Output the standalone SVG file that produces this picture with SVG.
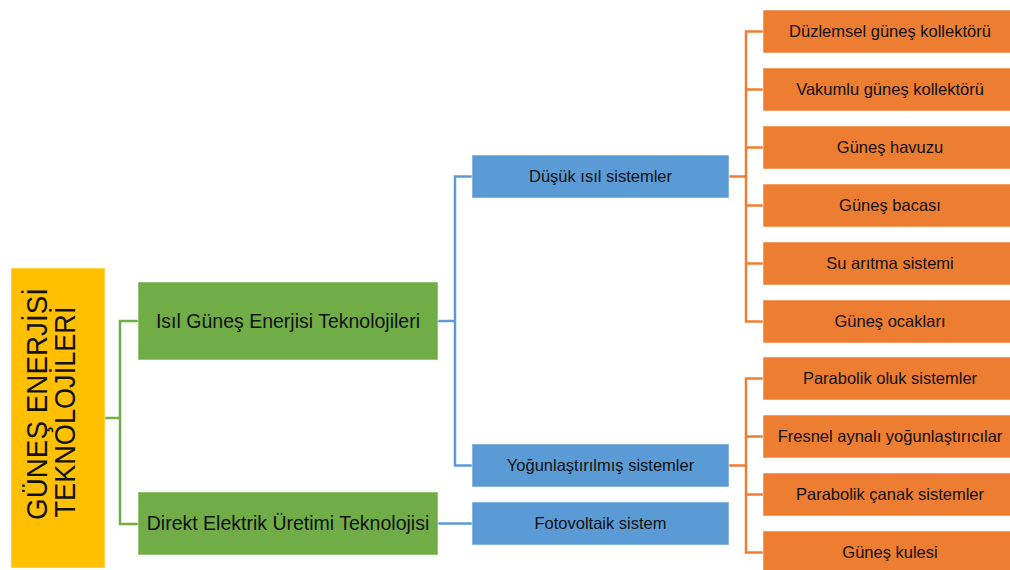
<svg xmlns="http://www.w3.org/2000/svg" width="1010" height="570" viewBox="0 0 1010 570">
<style>
.box{stroke:#ffffff;stroke-opacity:0.5;stroke-width:1}
.y{fill:#FFC000}.g{fill:#70AD47}.b{fill:#5B9BD5}.o{fill:#ED7D31}
.t{font-family:"Liberation Sans",Arial,sans-serif;fill:#111;text-anchor:middle}
.s{font-size:16.5px}.m{font-size:19.5px}.l{font-size:30px}
.cg{stroke:#70AD47}.cb{stroke:#5B9BD5}.co{stroke:#ED7D31}
#connectors path{fill:none;stroke-width:2.5}
</style>
<rect width="1010" height="570" fill="#ffffff"/>
<g id="connectors">
<path class="cg" d="M105,418 H120 M138,321 H120 V524 H138"/>
<path class="cb" d="M438,321 H455 M472,176.5 H455 V465.5 H472 M438,523.5 H472"/>
<path class="co" d="M729,176.5 H746 M763,31.5 H746 V321.5 H763 M746,89.5 H763 M746,147.5 H763 M746,205.5 H763 M746,263.5 H763"/>
<path class="co" d="M729,465.5 H746 M763,378.5 H746 V552.5 H763 M746,436.5 H763 M746,494.5 H763"/>
</g>
<g id="root">
<rect class="box y" x="11" y="268" width="94" height="300"/>
<text class="t l" transform="translate(47,404) rotate(-90)" textLength="232" lengthAdjust="spacingAndGlyphs">GÜNEŞ ENERJİSİ</text>
<text class="t l" transform="translate(75,412) rotate(-90)" textLength="211" lengthAdjust="spacingAndGlyphs">TEKNOLOJİLERİ</text>
</g>
<g id="isil">
<rect class="box g" x="138" y="282" width="300" height="78"/>
<text class="t m" x="288" y="328">Isıl Güneş Enerjisi Teknolojileri</text>
</g>
<g id="direkt">
<rect class="box g" x="138" y="492" width="300" height="63"/>
<text class="t m" x="288" y="530">Direkt Elektrik Üretimi Teknolojisi</text>
</g>
<g id="dusuk">
<rect class="box b" x="472" y="155" width="257" height="43"/>
<text class="t s" x="600.5" y="182.3">Düşük ısıl sistemler</text>
</g>
<g id="yogun">
<rect class="box b" x="472" y="444" width="257" height="43"/>
<text class="t s" x="600.5" y="471.3">Yoğunlaştırılmış sistemler</text>
</g>
<g id="foto">
<rect class="box b" x="472" y="502" width="257" height="43"/>
<text class="t s" x="600.5" y="529.3">Fotovoltaik sistem</text>
</g>
<g id="o1"><rect class="box o" x="763" y="10" width="255" height="43"/><text class="t s" x="890" y="37.3">Düzlemsel güneş kollektörü</text></g>
<g id="o2"><rect class="box o" x="763" y="68" width="255" height="43"/><text class="t s" x="890" y="95.3">Vakumlu güneş kollektörü</text></g>
<g id="o3"><rect class="box o" x="763" y="126" width="255" height="43"/><text class="t s" x="890" y="153.3">Güneş havuzu</text></g>
<g id="o4"><rect class="box o" x="763" y="184" width="255" height="43"/><text class="t s" x="890" y="211.3">Güneş bacası</text></g>
<g id="o5"><rect class="box o" x="763" y="242" width="255" height="43"/><text class="t s" x="890" y="269.3">Su arıtma sistemi</text></g>
<g id="o6"><rect class="box o" x="763" y="300" width="255" height="43"/><text class="t s" x="890" y="327.3">Güneş ocakları</text></g>
<g id="o7"><rect class="box o" x="763" y="357" width="255" height="43"/><text class="t s" x="890" y="384.3">Parabolik oluk sistemler</text></g>
<g id="o8"><rect class="box o" x="763" y="415" width="255" height="43"/><text class="t s" x="890" y="442.3">Fresnel aynalı yoğunlaştırıcılar</text></g>
<g id="o9"><rect class="box o" x="763" y="473" width="255" height="43"/><text class="t s" x="890" y="500.3">Parabolik çanak sistemler</text></g>
<g id="o10"><rect class="box o" x="763" y="531" width="255" height="43"/><text class="t s" x="890" y="558.3">Güneş kulesi</text></g>
</svg>
